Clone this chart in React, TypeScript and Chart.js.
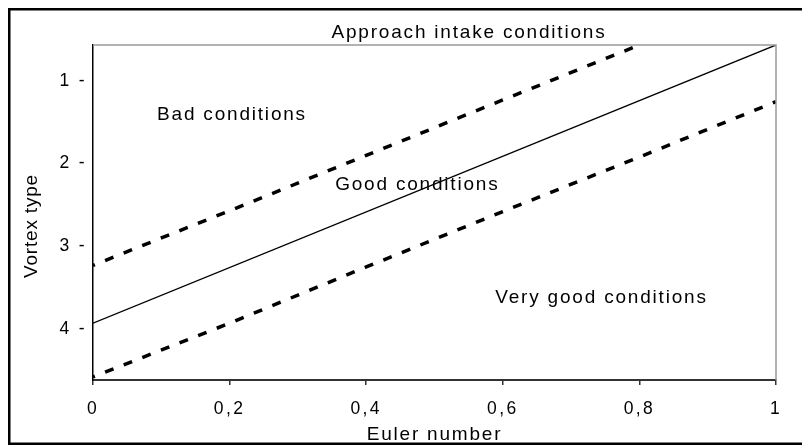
import React, { useEffect, useRef } from "react";
import { Chart, registerables } from "chart.js";

Chart.register(...registerables);

const xTickValues = [0, 0.2, 0.4, 0.6, 0.8, 1];
const xTickLabels = ["0", "0,2", "0,4", "0,6", "0,8", "1"];
const yTickValues = [1, 2, 3, 4];
const yTickLabels = ["1 -", "2 -", "3 -", "4 -"];

const boundaryX = [0, 1];
const boundaryY = [3.93, 0.565];
const upperX = [0, 0.2, 0.4, 0.6, 0.8];
const upperY = [3.23, 2.57, 1.9, 1.23, 0.565];
const lowerX = [0, 0.2, 0.4, 0.6, 0.8, 1];
const lowerY = [4.58, 3.93, 3.25, 2.58, 1.92, 1.25];

const annotationTexts = ["Approach intake conditions", "Bad conditions", "Good conditions", "Very good conditions"];
const annotationX = [0.5505, 0.2035, 0.4748, 0.7445];
const annotationY = [0.476, 1.472, 2.318, 3.682];

const xTitle = "Euler number";
const yTitle = "Vortex type";

const FONT = "'Liberation Sans', Arial, sans-serif";

const pts = (xs: number[], ys: number[]) => xs.map((x, i) => ({ x, y: ys[i] }));

const decorPlugin = {
  id: "decor",
  beforeDraw(chart: any) {
    const ctx = chart.ctx;
    (ctx as any).letterSpacing = "2.4px";
  },
  afterDraw(chart: any) {
    const ctx = chart.ctx as CanvasRenderingContext2D;
    const { left, right, top, bottom } = chart.chartArea;
    const xs = chart.scales.x;
    const ys = chart.scales.y;
    ctx.save();
    // top and right plot frame
    ctx.strokeStyle = "#999999";
    ctx.lineWidth = 1.5;
    ctx.beginPath();
    ctx.moveTo(left, top);
    ctx.lineTo(right, top);
    ctx.lineTo(right, bottom);
    ctx.stroke();
    // annotations
    ctx.fillStyle = "#000";
    (ctx as any).letterSpacing = "1.8px";
    ctx.font = `19px ${FONT}`;
    ctx.textAlign = "center";
    ctx.textBaseline = "alphabetic";
    annotationTexts.forEach((t, i) => {
      ctx.fillText(t, xs.getPixelForValue(annotationX[i]), ys.getPixelForValue(annotationY[i]));
    });
    // x title
    ctx.fillText(xTitle, (left + right) / 2, 440);
    // y title
    ctx.save();
    (ctx as any).letterSpacing = "0.8px";
    ctx.font = `19px ${FONT}`;
    ctx.translate(36.5, 226);
    ctx.rotate(-Math.PI / 2);
    ctx.fillText(yTitle, 0, 0);
    ctx.restore();
    // outer frame
    ctx.strokeStyle = "#000";
    ctx.lineWidth = 2.5;
    ctx.strokeRect(9.25, 9.25, 820, 434.5);
    ctx.restore();
  },
};

export default function App() {
  const ref = useRef<HTMLCanvasElement>(null);
  useEffect(() => {
    if (!ref.current) return;
    const chart = new Chart(ref.current, {
      type: "line",
      data: {
        datasets: [
          {
            data: pts(boundaryX, boundaryY),
            borderColor: "#000",
            borderWidth: 1.4,
            pointRadius: 0,
            fill: false,
          },
          {
            data: pts(upperX, upperY),
            borderColor: "#000",
            borderWidth: 3.5,
            borderDash: [9, 11],
            borderDashOffset: 7,
            pointRadius: 0,
            fill: false,
          },
          {
            data: pts(lowerX, lowerY),
            borderColor: "#000",
            borderWidth: 3.5,
            borderDash: [9, 11],
            borderDashOffset: 7,
            pointRadius: 0,
            fill: false,
          },
        ],
      },
      options: {
        responsive: false,
        animation: false,
        devicePixelRatio: 1,
        layout: { padding: { top: 45, right: 26, left: 0, bottom: 0 } },
        plugins: { legend: { display: false }, tooltip: { enabled: false }, title: { display: false } },
        scales: {
          x: {
            type: "linear",
            min: 0,
            max: 1,
            afterFit: (s: any) => {
              s.height = 66;
            },
            afterBuildTicks: (s: any) => {
              s.ticks = xTickValues.map((value) => ({ value }));
            },
            ticks: {
              color: "#000",
              font: { family: FONT, size: 17.5 },
              padding: 14,
              maxRotation: 0,
              autoSkip: false,
              callback: (_v: any, i: number) => xTickLabels[i],
            },
            grid: { drawOnChartArea: false, drawTicks: true, tickLength: 5, color: "#333", lineWidth: 1.5 },
            border: { display: true, color: "#333", width: 2 },
          },
          y: {
            type: "linear",
            reverse: true,
            min: 0.565,
            max: 4.617,
            afterFit: (s: any) => {
              s.width = 93;
            },
            afterBuildTicks: (s: any) => {
              s.ticks = yTickValues.map((value) => ({ value }));
            },
            ticks: {
              color: "#000",
              font: { family: FONT, size: 17.5 },
              padding: 6,
              autoSkip: false,
              callback: (_v: any, i: number) => yTickLabels[i],
            },
            grid: { drawOnChartArea: false, drawTicks: false, color: "#000" },
            border: { display: true, color: "#000", width: 1.5 },
          },
        },
      },
      plugins: [decorPlugin],
    } as any);
    return () => chart.destroy();
  }, []);
  return (
    <div style={{ position: "fixed", left: 0, top: 0, width: 802, height: 446, background: "#fff" }}>
      <canvas ref={ref} width={802} height={446} style={{ display: "block" }} />
    </div>
  );
}
